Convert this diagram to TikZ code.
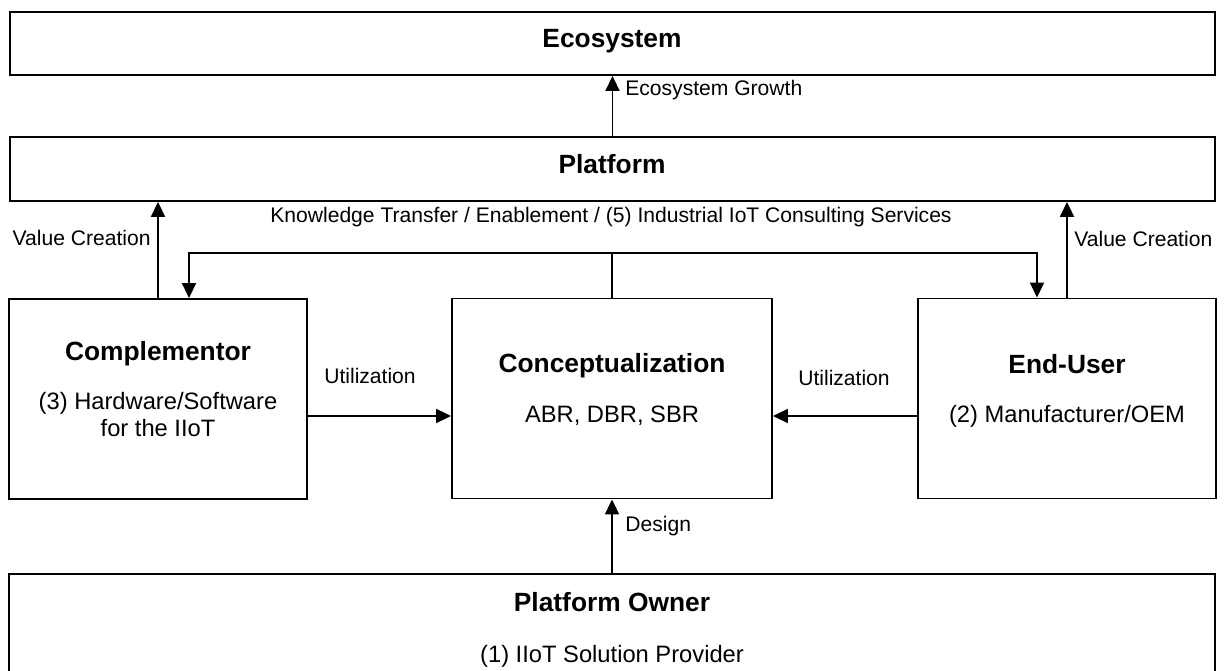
\documentclass[tikz,border=0pt]{standalone}
\usepackage{fontspec}
\setmainfont{Liberation Sans}
\usetikzlibrary{positioning, arrows.meta, calc}

\begin{document}
\begin{tikzpicture}[x=0.02cm, y=-0.02cm,
      kotak/.style={draw, line width=1.1pt, inner sep=0pt, minimum height=4cm},
      judul/.style={anchor=base, inner sep=0pt, font=\fontsize{15pt}{18pt}\selectfont\bfseries},
      isi/.style={anchor=base, inner sep=0pt, font=\fontsize{13.5pt}{16pt}\selectfont},
      ket/.style={inner sep=0pt, font=\fontsize{12pt}{14pt}\selectfont},
      panah/.style={-{Triangle[length=0.3cm, width=0.28cm]}, line width=1.1pt}
    ]
    \useasboundingbox (0,0) rectangle (1226,671);

    % ─── Top layers ──────────────────────────────────────────────
    \node[kotak, minimum width=24.1cm, minimum height=1.26cm] (eco)  at (612.5, 43.5) {};
    \node[kotak, minimum width=24.1cm, minimum height=1.28cm] (plat) at (612.5, 169) {};
    \node[judul] (ecojudul)  at (612, 48)  {Ecosystem};
    \node[judul] (platjudul) at (612, 174) {Platform};

    % ─── Middle row ──────────────────────────────────────────────
    \node[kotak, minimum width=5.96cm] (comp)   at (158, 399)    {};
    \node[kotak, minimum width=6.4cm]  (konsep) at (612, 398.5)  {};
    \node[kotak, minimum width=5.96cm] (user)   at (1067, 398.5) {};

    \node[judul] (compjudul)   at (158, 361)  {Complementor};
    \node[isi]   (compisi1)    at (158, 410)  {(3) Hardware/Software};
    \node[isi]   (compisi2)    at (158, 437)  {for the IIoT};
    \node[judul] (konsepjudul) at (612, 373)  {Conceptualization};
    \node[isi]   (konsepisi)   at (612, 423)  {ABR, DBR, SBR};
    \node[judul] (userjudul)   at (1067, 374) {End-User};
    \node[isi]   (userisi)     at (1067, 423) {(2) Manufacturer/OEM};

    % ─── Platform Owner (bottom) ─────────────────────────────────
    \node[kotak, minimum width=24.12cm, minimum height=2.52cm] (owner) at (612, 637) {};
    \node[judul] (ownerjudul) at (612, 611) {Platform Owner};
    \node[isi]   (ownerisi)   at (612, 662) {(1) IIoT Solution Provider};

    % ─── Labels ──────────────────────────────────────────────────
    \node[ket, anchor=base west] (growth)    at (625, 96)  {Ecosystem Growth};
    \node[ket, anchor=base]      (knowledge) at (611, 223) {Knowledge Transfer / Enablement / (5) Industrial IoT Consulting Services};
    \node[ket, anchor=base east] (vcleft)    at (151, 246) {Value Creation};
    \node[ket, anchor=base west] (vcright)   at (1074, 247) {Value Creation};
    \node[ket, anchor=base]      (utilleft)  at (370, 384) {Utilization};
    \node[ket, anchor=base]      (utilright) at (844, 386) {Utilization};
    \node[ket, anchor=base west] (design)    at (625, 531) {Design};

    % ─── Arrows ──────────────────────────────────────────────────
    % Platform → Ecosystem
    \draw[panah] (plat.north) -- (eco.south);

    % Value creation up to Platform
    \draw[panah] (comp.north) -- (comp.north |- plat.south);
    \draw[panah] (user.north) -- (user.north |- plat.south);

    % Knowledge transfer from Conceptualization
    \coordinate (kt) at ($(konsep.north)+(0,-44.5)$);
    \draw[line width=1.1pt] (konsep.north) -- (kt);
    \draw[panah] (kt) -| ($(comp.north)+(31,0)$);
    \draw[panah] (kt) -| ($(user.north)+(-30,0)$);

    % Utilization
    \draw[panah] ([yshift=-0.34cm]comp.east) -- ([yshift=-0.35cm]konsep.west);
    \draw[panah] ([yshift=-0.35cm]user.west) -- ([yshift=-0.35cm]konsep.east);

    % Design
    \draw[panah] (owner.north) -- (konsep.south);

\end{tikzpicture}
\end{document}
